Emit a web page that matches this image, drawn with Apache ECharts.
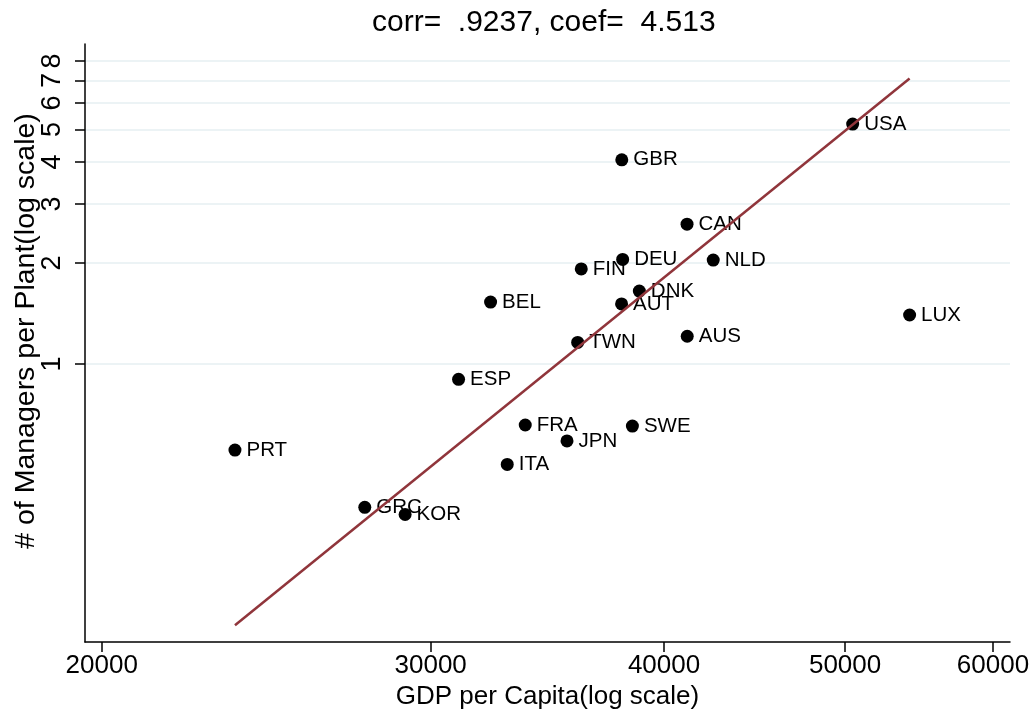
<!DOCTYPE html>
<html><head><meta charset="utf-8">
<script src="https://cdn.jsdelivr.net/npm/echarts@6/dist/echarts.min.js"></script>
<style>html,body{margin:0;padding:0;background:#fff}#c{width:1034px;height:717px}</style>
</head><body><div id="c"></div>
<script>
const countries = ['USA','GBR','CAN','DEU','NLD','FIN','DNK','AUT','LUX','AUS','TWN','BEL','ESP','FRA','SWE','JPN','PRT','ITA','GRC','KOR'];
const gdpPerCapita = [50470,37970,41150,38010,42500,36120,38800,37960,54140,41160,35960,32300,31050,33710,38470,35490,23570,32970,27660,29070];
const managersPerPlant = [5.19,4.06,2.61,2.05,2.04,1.92,1.65,1.51,1.40,1.21,1.16,1.53,0.90,0.658,0.653,0.590,0.554,0.502,0.374,0.356];
const xTicks = [20000,30000,40000,50000,60000];
const yTicks = [1,2,3,4,5,6,7,8];
const fitSlope = 4.513;
const fitIntercept = -47.229;
const titleText = 'corr=  .9237, coef=  4.513';
const xName = 'GDP per Capita(log scale)';
const yName = '# of Managers per Plant(log scale)';

const FONT = '"Liberation Sans", Arial, Helvetica, sans-serif';
const points = countries.map((c, i) => ({ name: c, value: [gdpPerCapita[i], managersPerPlant[i]] }));
const xMinData = Math.min(...gdpPerCapita), xMaxData = Math.max(...gdpPerCapita);
const fitY = x => Math.exp(fitIntercept + fitSlope * Math.log(x));
const fitLine = [[xMinData, fitY(xMinData)], [xMaxData, fitY(xMaxData)]];

const chart = echarts.init(document.getElementById('c'), null, { renderer: 'canvas' });
chart.setOption({
  animation: false,
  backgroundColor: '#fff',
  textStyle: { fontFamily: FONT },
  title: {
    text: titleText, left: 372, top: 8, padding: 0,
    textStyle: { fontFamily: FONT, fontSize: 30, fontWeight: 'normal', color: '#000' }
  },
  grid: { left: 85, right: 24, top: 44, bottom: 75, containLabel: false, outerBoundsMode: 'none' },
  xAxis: {
    type: 'log', logBase: 10, min: 19592, max: 61272,
    name: xName, nameLocation: 'middle', nameGap: 42, nameMoveOverlap: false,
    nameTextStyle: { fontFamily: FONT, fontSize: 26, color: '#000', verticalAlign: 'top' },
    axisLine: { show: true, onZero: false, lineStyle: { color: '#000', width: 1.5 } },
    axisTick: { show: true, length: 10, inside: false, customValues: xTicks, lineStyle: { color: '#000', width: 1.5 } },
    axisLabel: { customValues: xTicks, margin: 11, fontFamily: FONT, fontSize: 26, color: '#000', formatter: v => String(Math.round(v)) },
    splitLine: { show: false }, minorTick: { show: false }
  },
  yAxis: {
    type: 'log', logBase: 10, min: 0.1484, max: 8.99,
    name: yName, nameLocation: 'middle', nameGap: 44, nameRotate: 90, nameMoveOverlap: false,
    nameTextStyle: { fontFamily: FONT, fontSize: 28.5, color: '#000', padding: [0, 0, 0, 24] },
    axisLine: { show: true, onZero: false, lineStyle: { color: '#000', width: 1.5 } },
    axisTick: { show: true, length: 10, inside: false, customValues: yTicks, lineStyle: { color: '#000', width: 1.5 } },
    axisLabel: { customValues: yTicks, rotate: 90, margin: 19, fontFamily: FONT, fontSize: 27, color: '#000', formatter: v => String(Math.round(v)) },
    splitLine: { show: true, lineStyle: { color: '#e6eff2', width: 1.5 } }, minorTick: { show: false }
  },
  series: [
    {
      type: 'scatter', z: 2, data: points, symbol: 'circle', symbolSize: 13,
      itemStyle: { color: '#000', opacity: 1 },
      label: { show: true, position: 'right', distance: 5, formatter: '{b}', fontFamily: FONT, fontSize: 20.5, color: '#000', opacity: 1 },
      emphasis: { disabled: true }
    },
    {
      type: 'line', z: 3, data: fitLine, showSymbol: false, symbol: 'none',
      lineStyle: { color: '#90353b', width: 2.5 }, emphasis: { disabled: true }
    }
  ]
});
</script>
</body></html>
